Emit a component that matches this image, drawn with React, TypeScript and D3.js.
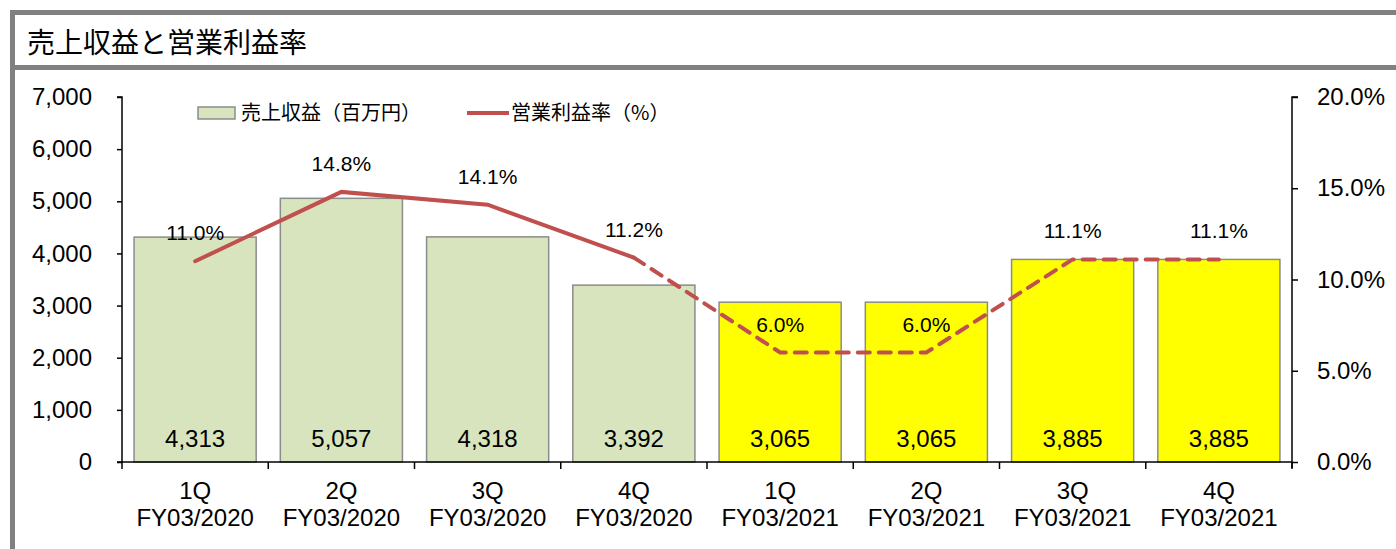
import React, { useEffect, useRef } from 'react'
import * as d3 from 'd3'

const quarters = ['1Q', '2Q', '3Q', '4Q', '1Q', '2Q', '3Q', '4Q']
const fiscalYears = ['FY03/2020', 'FY03/2020', 'FY03/2020', 'FY03/2020', 'FY03/2021', 'FY03/2021', 'FY03/2021', 'FY03/2021']
const revenue = [4313, 5057, 4318, 3392, 3065, 3065, 3885, 3885]
const marginPct = [11.0, 14.8, 14.1, 11.2, 6.0, 6.0, 11.1, 11.1]
const isForecast = [false, false, false, false, true, true, true, true]
const leftTicks = [0, 1000, 2000, 3000, 4000, 5000, 6000, 7000]
const rightTicks = [0, 5, 10, 15, 20]

const W = 1396
const H = 549
const JP = '"Noto Sans CJK JP", "Noto Sans", sans-serif'
const LAT = '"Liberation Sans", Arial, sans-serif'

export default function App() {
  const ref = useRef<SVGSVGElement>(null)

  useEffect(() => {
    const svg = d3.select(ref.current)
    svg.selectAll('*').remove()

    // frame
    svg.append('rect').attr('x', 0).attr('y', 0).attr('width', W).attr('height', H).attr('fill', '#fff')
    svg.append('rect').attr('x', 10).attr('y', 10).attr('width', W - 10).attr('height', 5).attr('fill', '#808080')
    svg.append('rect').attr('x', 10).attr('y', 10).attr('width', 5).attr('height', H - 10).attr('fill', '#808080')
    svg.append('rect').attr('x', 10).attr('y', 65).attr('width', W - 10).attr('height', 5).attr('fill', '#808080')
    svg.append('text').attr('x', 27).attr('y', 53).attr('font-family', JP).attr('font-size', 28)
      .attr('fill', '#000').text('売上収益と営業利益率')

    const left = 122, right = 1292, top = 97, bottom = 462
    const x = d3.scaleBand<number>().domain(d3.range(revenue.length)).range([left, right]).paddingInner(0.165).paddingOuter(0.0825)
    const band = d3.scaleBand<number>().domain(d3.range(revenue.length)).range([left, right])
    const y = d3.scaleLinear().domain([0, 7000]).range([bottom, top])
    const y2 = d3.scaleLinear().domain([0, 20]).range([bottom, top])

    // bars
    svg.append('g').selectAll('rect').data(revenue).enter().append('rect')
      .attr('x', (d, i) => x(i)!)
      .attr('y', d => y(d))
      .attr('width', x.bandwidth())
      .attr('height', d => bottom - y(d))
      .attr('fill', (d, i) => (isForecast[i] ? '#ffff00' : '#d7e4bd'))
      .attr('stroke', '#8c8c8c')
      .attr('stroke-width', 1.5)

    // axes
    const axL = svg.append('g').attr('transform', `translate(${left},0)`)
      .call(d3.axisLeft(y).tickValues(leftTicks).tickSize(5).tickPadding(25).tickFormat(d3.format(',')))
    const axR = svg.append('g').attr('transform', `translate(${right},0)`)
      .call(d3.axisRight(y2).tickValues(rightTicks).tickSize(6).tickPadding(19).tickFormat(d => (+d).toFixed(1) + '%'))
    ;[axL, axR].forEach(a => {
      a.select('.domain').attr('stroke', '#000').attr('stroke-width', 1.5)
      a.selectAll('.tick line').attr('stroke', '#000').attr('stroke-width', 1.5)
      a.selectAll('text').attr('font-family', LAT).attr('font-size', 24).attr('fill', '#000')
    })
    axL.select('.domain').attr('d', `M-5,${top}H0V${bottom}H-5`)
    axR.select('.domain').attr('d', `M6,${top}H0V${bottom + 6}`)

    // bottom axis
    const bx = svg.append('g')
    bx.append('line').attr('x1', left).attr('x2', right).attr('y1', bottom).attr('y2', bottom)
      .attr('stroke', '#000').attr('stroke-width', 1.5)
    bx.selectAll('line.tk').data(d3.range(revenue.length + 1)).enter().append('line')
      .attr('class', 'tk')
      .attr('x1', i => left + i * band.bandwidth()).attr('x2', i => left + i * band.bandwidth())
      .attr('y1', bottom).attr('y2', bottom + 7).attr('stroke', '#000').attr('stroke-width', 1.5)
    const cats = bx.selectAll('g.cat').data(quarters).enter().append('g')
      .attr('transform', (d, i) => `translate(${band(i)! + band.bandwidth() / 2},0)`)
    cats.append('text').attr('y', 499).attr('text-anchor', 'middle').attr('font-family', LAT)
      .attr('font-size', 24).text(d => d)
    cats.append('text').attr('y', 526).attr('text-anchor', 'middle').attr('font-family', LAT)
      .attr('font-size', 24).text((d, i) => fiscalYears[i])

    // bar value labels
    svg.append('g').selectAll('text').data(revenue).enter().append('text')
      .attr('x', (d, i) => x(i)! + x.bandwidth() / 2)
      .attr('y', 447)
      .attr('text-anchor', 'middle').attr('font-family', LAT).attr('font-size', 24)
      .text(d => d3.format(',')(d))

    // operating margin line: actuals solid, forecast dashed
    const cx = (i: number) => band(i)! + band.bandwidth() / 2
    const line = d3.line<number>().x((d, i) => cx(i)).y(d => y2(d))
    const lineDashed = d3.line<number>().x((d, i) => cx(i + 3)).y(d => y2(d))
    svg.append('path').attr('d', line(marginPct.slice(0, 4)))
      .attr('fill', 'none').attr('stroke', '#c0504d').attr('stroke-width', 4).attr('stroke-linecap', 'round')
    svg.append('path').attr('d', lineDashed(marginPct.slice(3)))
      .attr('fill', 'none').attr('stroke', '#c0504d').attr('stroke-width', 4)
      .attr('stroke-dasharray', '12,9').attr('stroke-linecap', 'round')

    svg.append('g').selectAll('text').data(marginPct).enter().append('text')
      .attr('x', (d, i) => cx(i))
      .attr('y', d => y2(d) - 21)
      .attr('text-anchor', 'middle').attr('font-family', LAT).attr('font-size', 21)
      .text(d => d.toFixed(1) + '%')

    // legend
    const lg = svg.append('g')
    lg.append('rect').attr('x', 198).attr('y', 107).attr('width', 37).attr('height', 12)
      .attr('fill', '#d7e4bd').attr('stroke', '#8c8c8c').attr('stroke-width', 1.5)
    lg.append('text').attr('x', 241).attr('y', 120).attr('font-family', JP).attr('font-size', 20)
      .text('売上収益（百万円）')
    lg.append('line').attr('x1', 467).attr('x2', 509).attr('y1', 113).attr('y2', 113)
      .attr('stroke', '#c0504d').attr('stroke-width', 4)
    lg.append('text').attr('x', 511).attr('y', 120).attr('font-family', JP).attr('font-size', 20)
      .text('営業利益率（%）')
  }, [])

  return (
    <>
      <style>{'body{margin:0}'}</style>
      <svg ref={ref} width={W} height={H} style={{ display: 'block' }} />
    </>
  )
}
